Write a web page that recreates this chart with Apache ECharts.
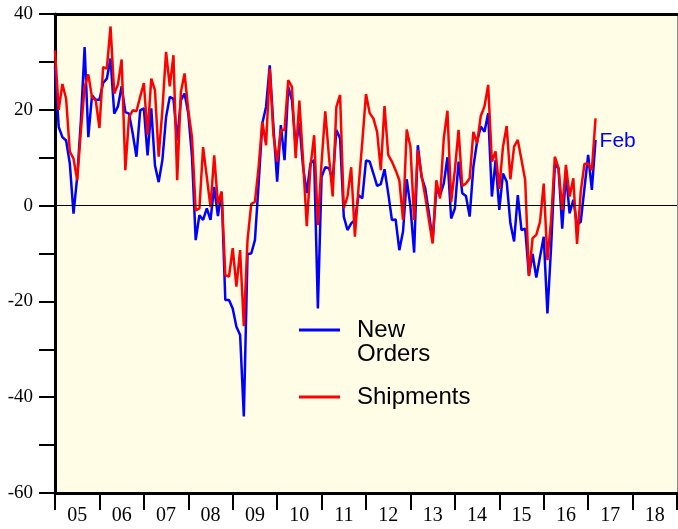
<!DOCTYPE html>
<html>
<head>
<meta charset="utf-8">
<script src="https://cdn.jsdelivr.net/npm/echarts@6/dist/echarts.min.js"></script>
<style>
  html, body { margin: 0; padding: 0; background: #fff; }
  #chart { width: 678px; height: 529px; }
</style>
</head>
<body>
<div id="chart"></div>
<script>
// year labels under the axis
var years = ['05', '06', '07', '08', '09', '10', '11', '12', '13', '14', '15', '16', '17', '18'];

// monthly values, last point is Feb 2017
var newOrders = [
  29, 16.4, 14.3, 13.6, 8.8, -1.7, 6, 17.8, 33.1, 14.3, 23, 22.1,
  22.1, 25.6, 26.5, 30.7, 19.2, 20.7, 24.9, 19.5, 19.2, 15, 10.2, 19.9,
  20.3, 10.5, 20.3, 8.4, 4.9, 9.5, 18.5, 22.7, 22.3, 13.6, 22, 23.4,
  19.2, 10.2, -7.2, -2, -3, -0.6, -3, 3.9, -2.2, 2.9, -19.7, -19.7,
  -21.5, -25.3, -27, -44, -10.1, -10, -7.2, 4.6, 17.2, 20.6, 29.3, 16.5,
  5, 16.8, 9.5, 24.8, 22, 12.3, 17.2, 8.1, 2.6, 8.8, 9.5, -21.5,
  6, 8, 7.8, 5.3, 15.8, 14, -2.3, -5.1, -3.7, -3, 2.2, 1.5,
  9.4, 9.2, 6.7, 4.1, 4.5, 7.6, 2.6, -3, -2.9, -9.3, -5.4, 5.5,
  -0.2, -9.8, 12.6, 6, 3.6, -1.6, -7.2, 3.3, 2.2, 4.6, 10.1, -2.7,
  -0.6, 9.2, 2.6, 2, -2.3, 8.1, 13.3, 16.5, 15.4, 19.3, 1.9, 9.5,
  -0.9, 6.7, 5, -3.7, -7.5, 2.2, -5.1, -4.8, -14.5, -10.1, -15, -10.7,
  -6.5, -22.5, -8.6, 8.5, 7.8, -4.8, 6.7, -1.6, 1.2, -4, -3.4, 3.6,
  10.6, 3.3, 13.7
];
var shipments = [
  32.4, 20, 25.4, 22.3, 11.3, 9.8, 5.3, 15.7, 24.8, 27.4, 22.6, 22,
  16.2, 28.9, 28.6, 37.4, 23.4, 25.3, 30.5, 7.4, 18.5, 19.9, 19.7, 22.7,
  25.6, 14.7, 26.5, 24.1, 10.2, 19.9, 32.1, 24.9, 31.4, 5.3, 23.7, 27.6,
  19.9, 14.3, -1, -0.6, 12.2, 6, -0.3, 10.5, 0.4, 2.9, -14.5, -14.8,
  -8.9, -16.9, -9.3, -25.2, -7.2, 0.3, 0.8, 8.1, 17.5, 12.6, 28.6, 14.7,
  9.2, 15.8, 15.8, 26.2, 24.8, 9.9, 21.9, 9.5, -4.3, 8.1, 14.7, -4.1,
  9, 19.7, 10.2, 1.9, 20.6, 23.1, -0.6, 1.9, 8, -6.5, 3.9, 13.3,
  23.3, 19.3, 18.2, 15.4, 7.4, 20.8, 10.6, 9.2, 7.4, 5.3, -3, 15.9,
  12.3, -3, 11.6, 6.4, 1.9, -3, -7.9, 5.3, 1.5, 14, 19.8, 0.8,
  7.4, 15.8, 4.1, 4.6, 5.7, 15.4, 13, 18.7, 20.7, 25.2, 9.2, 11.3,
  3.5, 12.3, 16.6, 5.5, 12.3, 13.7, 9.5, 5.3, -14.7, -6.8, -6.1, -3.4,
  4.6, -11.4, -3, 10.2, 7.8, -0.9, 8.5, 1.9, 5.7, -8, 2.9, 8.7,
  8.8, 7.4, 18.2
];

function toPoints(arr) {
  return arr.map(function (v, i) { return [i, v]; });
}

var serif = 'Liberation Serif';
var sans = 'Liberation Sans';

var chart = echarts.init(document.getElementById('chart'));
var option = {
  animation: false,
  backgroundColor: '#fff',
  grid: {
    left: 55, right: 1, top: 14, bottom: 36,
    show: true,
    backgroundColor: '#fffde6',
    borderWidth: 0
  },
  legend: [
    {
      data: ['New\nOrders'],
      // empty first line so the line marker sits beside "New"
      formatter: function (name) { return '\n' + name; },
      left: 299, top: 294,
      padding: 0,
      icon: 'rect',
      itemWidth: 41, itemHeight: 3,
      selectedMode: false,
      textStyle: { fontFamily: sans, fontSize: 24, lineHeight: 24, color: '#000', padding: [0, 0, 0, 12] }
    },
    {
      data: ['Shipments'],
      left: 299, top: 385,
      padding: 0,
      icon: 'rect',
      itemWidth: 41, itemHeight: 3,
      selectedMode: false,
      textStyle: { fontFamily: sans, fontSize: 24, lineHeight: 24, color: '#000', padding: [0, 0, 0, 12] }
    }
  ],
  xAxis: [
    {
      // data axis, counted in months; its line is the top border
      type: 'value',
      min: 0, max: 168,
      position: 'top',
      axisLine: { show: true, onZero: false, lineStyle: { color: '#000', width: 3 } },
      axisTick: { show: false },
      axisLabel: { show: false },
      splitLine: { show: false }
    },
    {
      type: 'category',
      data: years,
      position: 'bottom',
      boundaryGap: true,
      axisLine: { show: true, onZero: false, lineStyle: { color: '#000', width: 3 } },
      axisTick: { show: true, inside: false, length: 17, lineStyle: { color: '#000', width: 2 } },
      axisLabel: { color: '#000', fontFamily: serif, fontSize: 20, margin: 13 },
      splitLine: { show: false }
    }
  ],
  yAxis: [
    {
      type: 'value',
      min: -60, max: 40, interval: 10,
      position: 'left',
      axisLine: { show: true, onZero: false, lineStyle: { color: '#000', width: 3 } },
      axisTick: { show: true, inside: false, length: 16, lineStyle: { color: '#000', width: 2 } },
      axisLabel: {
        color: '#000', fontFamily: serif, fontSize: 19, margin: 22,
        formatter: function (v) { return v % 20 === 0 ? String(v) : ''; }
      },
      splitLine: { show: false }
    },
    {
      type: 'value',
      min: -60, max: 40,
      position: 'right',
      axisLine: { show: true, onZero: false, lineStyle: { color: '#888', width: 1 } },
      axisTick: { show: false },
      axisLabel: { show: false },
      splitLine: { show: false }
    }
  ],
  series: [
    {
      name: 'New\nOrders',
      type: 'line',
      xAxisIndex: 0, yAxisIndex: 0,
      data: toPoints(newOrders),
      symbol: 'none',
      color: '#0000ff',
      lineStyle: { color: '#0000ff', width: 2.5 },
      endLabel: {
        show: true,
        formatter: 'Feb',
        color: '#0000ff',
        fontFamily: sans,
        fontSize: 21,
        distance: 4,
        offset: [0, 1]
      },
      markLine: {
        silent: true,
        symbol: 'none',
        label: { show: false },
        lineStyle: { color: '#000', width: 1, type: 'solid' },
        data: [{ yAxis: 0 }]
      }
    },
    {
      name: 'Shipments',
      type: 'line',
      xAxisIndex: 0, yAxisIndex: 0,
      data: toPoints(shipments),
      symbol: 'none',
      color: '#ff0000',
      lineStyle: { color: '#ff0000', width: 2.5 }
    }
  ]
};
chart.setOption(option);
</script>
</body>
</html>
